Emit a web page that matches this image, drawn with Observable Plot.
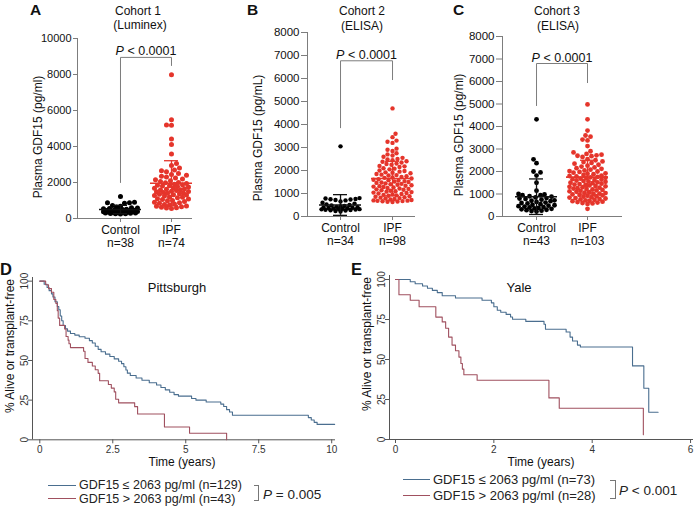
<!DOCTYPE html>
<html><head><meta charset="utf-8">
<script src="https://cdn.jsdelivr.net/npm/d3@7"></script>
<script src="https://cdn.jsdelivr.net/npm/@observablehq/plot@0.6"></script>
<style>
body{margin:0;background:#fff;}
#fig{position:relative;width:695px;height:510px;overflow:hidden;background:#fff;font-family:"Liberation Sans",Arial,Helvetica,sans-serif;color:#111;}
.t{position:absolute;white-space:nowrap;line-height:1;}
.sw{position:absolute;height:0;}
.br{position:absolute;border:1px solid #777;border-left:none;}
</style></head><body><div id="fig"></div>
<script>
// ---------- Data: panels A–C, plasma GDF15 per subject ----------
const groups = ["Control", "IPF"];
const cohort1Control = [1220, 900, 880, 870, 850, 720, 680, 640, 600, 580, 560, 540, 520, 500, 480, 470, 460, 450, 440, 430, 420, 410, 400, 390, 380, 370, 360, 350, 340, 330, 320, 310, 300, 290, 280, 270, 260, 250];
const cohort1IPF = [7980, 5480, 5200, 5180, 4410, 4110, 3590,
  3050, 2950, 2800, 2700, 2650, 2600, 2500, 2450, 2400, 2350, 2300, 2250, 2200, 2150, 2100, 2050, 2000, 1980, 1950, 1900,
  1880, 1850, 1820, 1800, 1780, 1750, 1700, 1680, 1650, 1620, 1600, 1580, 1550, 1520, 1500, 1480, 1450, 1420, 1400, 1380,
  1350, 1320, 1300, 1280, 1250, 1200, 1180, 1150, 1100, 1080, 1050, 1000, 980, 950, 900, 880, 850, 800, 780, 750,
  700, 680, 650, 620, 600, 580, 550];
const cohort2Control = [3050, 800, 780, 760, 750, 740, 720, 700, 650, 600, 560, 520, 500, 480, 460, 440, 420, 400, 390, 380, 370, 360, 350, 340, 330, 320, 310, 300, 290, 280, 270, 260, 240, 220];
const cohort2IPF = [4700, 3600, 3450, 3300, 3250, 3200, 2950, 2900, 2850,
  2750, 2700, 2650, 2600, 2550, 2500, 2480, 2450, 2400, 2380, 2350, 2300, 2280, 2250, 2200, 2180, 2150, 2100, 2080, 2050,
  2000, 1980, 1950, 1920, 1900, 1880, 1850, 1820, 1800, 1780, 1750, 1720, 1700, 1680, 1650, 1620, 1600, 1580, 1560, 1540,
  1520, 1500, 1480, 1460, 1440, 1420, 1400, 1380, 1360, 1340, 1320, 1300, 1280, 1260, 1240, 1220, 1200, 1180, 1160, 1140,
  1120, 1100, 1080, 1060, 1040, 1020, 1000, 980, 960, 940, 920, 900, 880, 860, 840, 820, 800, 780, 760, 740,
  720, 700, 690, 680, 670, 660, 650, 640, 630];
const cohort3Control = [4320, 2540, 2370, 2000, 1960, 1820, 1500, 1150, 950,
  1000, 980, 950, 900, 880, 850, 820, 800, 780, 750, 720, 700, 680, 650, 620, 600, 580, 550, 520, 500,
  480, 460, 440, 420, 400, 380, 360, 340, 320, 300, 280, 260, 240, 220];
const cohort3IPF = [4980, 4320, 3820, 3600, 3550, 3420, 3380, 3130, 2900, 2850, 2780, 2750, 2720, 2700, 2680, 2650, 340,
  2550, 2500, 2450, 2420, 2380, 2350, 2300, 2260, 2220, 2180, 2150, 2120, 2080, 2050, 2020, 2000, 1980, 1950, 1920, 1900,
  1880, 1850, 1820, 1800, 1780, 1760, 1740, 1720, 1700, 1680, 1660, 1640, 1620, 1600, 1580, 1560, 1540, 1520, 1500, 1480,
  1460, 1440, 1420, 1400, 1380, 1360, 1340, 1320, 1300, 1280, 1260, 1240, 1220, 1200, 1180, 1160, 1140, 1120, 1100, 1080,
  1060, 1040, 1020, 1000, 980, 960, 940, 920, 900, 880, 860, 840, 820, 800, 780, 760, 740, 720, 700, 680,
  660, 640, 620, 600, 580, 560];
// mean and SD bars as drawn
const cohort1Mean = [500, 1960], cohort1SD = [230, 1250];
const cohort2Mean = [500, 1650], cohort2SD = [450, 750];
const cohort3Mean = [880, 1750], cohort3SD = [790, 750];
// group sizes
const cohort1N = ["n=38", "n=74"], cohort2N = ["n=34", "n=98"], cohort3N = ["n=43", "n=103"];
// significance brackets: [left leg end, bracket top, right leg end]
const cohort1Bracket = [2000, 8950, 8500];
const cohort2Bracket = [3860, 6770, 5950];
const cohort3Bracket = [4930, 6800, 5950];
const pTop = "P < 0.0001";
const ticks10000 = [0, 2000, 4000, 6000, 8000, 10000];
const ticks8000 = [0, 1000, 2000, 3000, 4000, 5000, 6000, 7000, 8000];

// ---------- Data: panels D–E, Kaplan–Meier (time in years, % alive or transplant-free) ----------
const pittLowTime = [0, 0.15, 0.25, 0.32, 0.4, 0.45, 0.52, 0.6, 0.65, 0.7, 0.75, 0.8, 0.88, 0.95, 1.05, 1.2, 1.35, 1.55, 1.7, 1.8, 1.9, 2.0, 2.1, 2.25, 2.4, 2.55, 2.7, 2.8, 2.88, 2.95, 3.0, 3.1, 3.3, 3.5, 3.75, 4.0, 4.15, 4.3, 4.45, 4.6, 4.75, 5.2, 5.35, 5.7, 6.2, 6.3, 6.4, 6.5, 6.6, 9.2, 9.3, 9.4, 9.5, 10.1];
const pittLowSurv = [100, 98, 96, 94, 92, 90, 87, 84, 82, 78, 75, 72, 70, 68.5, 67, 66, 65, 64, 62.5, 61, 59, 57, 55.5, 54, 52.5, 51, 49.5, 48, 46, 44, 42, 40.5, 39, 37.5, 36, 34.5, 33, 31.5, 30, 28.5, 27.5, 26, 25, 23.8, 22.5, 21, 19, 17.5, 15.5, 14, 12.5, 11, 9.7, 9.7];
const pittHighTime = [0, 0.2, 0.3, 0.4, 0.48, 0.55, 0.6, 0.63, 0.68, 0.85, 0.9, 0.97, 1.0, 1.05, 1.5, 1.55, 1.65, 1.8, 1.9, 2.0, 2.05, 2.35, 2.45, 2.55, 2.6, 2.7, 3.25, 3.35, 4.27, 5.13, 6.4];
const pittHighSurv = [100, 97.7, 95.3, 93, 88.4, 86, 81.4, 76.7, 72.1, 69.8, 65.1, 62.8, 60.5, 58.1, 55.8, 51.2, 48.8, 46.5, 44.2, 41.9, 37.2, 34.9, 32.6, 30.2, 25.6, 23.3, 20.9, 16.3, 8.1, 4.1, 0];
const yaleLowTime = [0, 0.3, 0.4, 0.55, 0.65, 0.75, 0.85, 0.95, 1.22, 1.76, 1.95, 2.0, 2.07, 2.14, 2.25, 2.34, 2.38, 2.65, 3.02, 3.05, 3.47, 3.55, 3.6, 3.7, 3.76, 4.82, 5.05, 5.15, 5.34];
const yaleLowSurv = [100, 98.6, 97.3, 95.9, 94.5, 93.2, 91.8, 89.8, 88.4, 87, 85.4, 83, 80.8, 79.5, 78.2, 76.6, 75.2, 73.8, 72, 68.9, 67.2, 64, 61.6, 59, 57.8, 46, 32, 17, 17];
const yaleHighTime = [0, 0.07, 0.3, 0.48, 0.82, 0.95, 1.02, 1.08, 1.15, 1.22, 1.29, 1.33, 1.36, 1.39, 1.66, 3.12, 3.33, 5.04];
const yaleHighSurv = [100, 90.5, 87, 83, 76.5, 73.5, 69.5, 64, 59, 55.5, 51.5, 47.5, 44, 40.5, 37, 26, 19.5, 3];
const pittTicks = [0, 2.5, 5, 7.5, 10];
const yaleTicks = [0, 2, 4, 6];
const survTicks = [0, 25, 50, 75, 100];
const legendLow = "GDF15 ≤ 2063 pg/ml", legendHigh = "GDF15 > 2063 pg/ml";

// ---------- Styling ----------
const FONT = '"Liberation Sans", Arial, Helvetica, sans-serif';
const AX = "#7d7d7d";
const DOT = ["#000000", "#e5352b"];
const BAR = ["#111111", "#e5352b"];
const AX2 = "#555555";
const BLUE = "#4a6e8f", RED = "#a0505f";

const fig = document.getElementById("fig");
function place(svg, left, top) {
  svg.style.position = "absolute";
  svg.style.left = left + "px";
  svg.style.top = top + "px";
  svg.style.overflow = "visible";
  svg.style.background = "transparent";
  svg.style.maxWidth = "none";
  fig.appendChild(svg);
}
function label(html, x, base, size, opt = {}) {
  const d = document.createElement("div");
  d.className = "t";
  d.innerHTML = html;
  d.style.fontSize = size + "px";
  d.style.left = x + "px";
  d.style.top = (base - 0.8465 * size) + "px";
  if (opt.center) d.style.transform = "translateX(-50%)";
  if (opt.bold) d.style.fontWeight = "bold";
  if (opt.color) d.style.color = opt.color;
  fig.appendChild(d);
}
function vlabel(txt, cx, cy, size) {
  const d = document.createElement("div");
  d.className = "t";
  d.textContent = txt;
  d.style.fontSize = size + "px";
  d.style.left = cx + "px";
  d.style.top = cy + "px";
  d.style.transform = "translate(-50%,-50%) rotate(-90deg)";
  fig.appendChild(d);
}
function italicP(svg) {
  svg.querySelectorAll("text").forEach(t => {
    if (t.children.length === 0 && /^P [<=]/.test(t.textContent)) {
      const rest = t.textContent.slice(1);
      t.textContent = "";
      const ts = document.createElementNS("http://www.w3.org/2000/svg", "tspan");
      ts.setAttribute("font-style", "italic");
      ts.textContent = "P";
      t.appendChild(ts);
      t.appendChild(document.createTextNode(rest));
    }
  });
}

// scatter-dot layout (offsets in pixels), points overlap once the row is full
function swarm(values, pxPerY, r, maxW) {
  const order = d3.range(values.length).sort((a, b) => values[a] - values[b]);
  const placed = [], off = new Array(values.length);
  const need = 2 * r;
  order.forEach((i, n) => {
    const y = values[i] * pxPerY;
    const sgn = n % 2 ? -1 : 1;
    let best = 0, bestScore = -Infinity;
    for (let k = 0; k <= 2 * maxW; k++) {
      const m = Math.ceil(k / 2);
      const o = (k % 2 ? m : -m) * sgn;
      let minD = Infinity;
      for (const p of placed) {
        const dd = Math.hypot(p[0] - o, p[1] - y);
        if (dd < minD) minD = dd;
      }
      if (minD >= need) { best = o; bestScore = Infinity; break; }
      if (minD > bestScore + 0.01) { bestScore = minD; best = o; }
    }
    placed.push([best, y]);
    off[i] = best;
  });
  return off;
}

function scatterPanel(c) {
  const pxPerY = (c.height - c.mt - c.mb) / c.yMax;
  const spacing = (c.width - c.ml - c.mr) / (c.xDomain[1] - c.xDomain[0]);
  const rows = [];
  c.values.forEach((vals, g) => {
    const off = swarm(vals, pxPerY, c.r, c.maxW);
    vals.forEach((v, i) => rows.push({g, v, x: g + off[i] / spacing}));
  });
  const stats = c.means.map((m, g) => ({g, m, lo: m - c.sds[g], hi: m + c.sds[g]}));
  const capW = 7 / spacing, meanW = 21 / spacing;
  const br = [{x: 0, y: c.bracket[0]}, {x: 0, y: c.bracket[1]}, {x: 1, y: c.bracket[1]}, {x: 1, y: c.bracket[2]}];
  const marks = [
    Plot.ruleX([c.xDomain[0]], {stroke: AX}),
    Plot.ruleY([0], {stroke: AX}),
    Plot.axisY({ticks: c.yTicks, tickFormat: d => String(d), tickSize: c.tickSize, tickPadding: 2, stroke: AX, fill: "#111", fontSize: c.fontSize, label: null}),
    Plot.axisX({ticks: [0, 1], tickFormat: i => groups[i] + "\n" + c.nLabels[i], tickSize: 4, tickPadding: 2, stroke: AX, fill: "#111", fontSize: 12, lineHeight: 1.1, label: null}),
    Plot.line(br, {x: "x", y: "y", stroke: AX, strokeWidth: 1}),
    Plot.text([{x: 0.5, y: c.bracket[1], t: pTop}], {x: "x", y: "y", text: "t", lineAnchor: "bottom", dy: -2, fontSize: 12.5, fill: "#111"})
  ];
  [0, 1].forEach(g => {
    marks.push(Plot.dot(rows, {filter: d => d.g === g, x: "x", y: "v", r: c.r, fill: DOT[g], stroke: "none"}));
  });
  [0, 1].forEach(g => {
    const s = stats.filter(d => d.g === g);
    marks.push(
      Plot.ruleX(s, {x: "g", y1: "lo", y2: "hi", stroke: BAR[g], strokeWidth: 1.3}),
      Plot.ruleY(s, {y: "hi", x1: d => d.g - capW, x2: d => d.g + capW, stroke: BAR[g], strokeWidth: 1.3}),
      Plot.ruleY(s, {y: "lo", x1: d => d.g - capW, x2: d => d.g + capW, stroke: BAR[g], strokeWidth: 1.3}),
      Plot.ruleY(s, {y: "m", x1: d => d.g - meanW, x2: d => d.g + meanW, stroke: BAR[g], strokeWidth: 1.6})
    );
  });
  const svg = Plot.plot({
    width: c.width, height: c.height,
    marginTop: c.mt, marginBottom: c.mb, marginLeft: c.ml, marginRight: c.mr,
    x: {domain: c.xDomain},
    y: {domain: [0, c.yMax]},
    style: {fontFamily: FONT, fontSize: "11px", color: "#111", background: "transparent"},
    marks
  });
  italicP(svg);
  place(svg, c.left, 0);
}

scatterPanel({left: 0, width: 232, height: 255, mt: 38, mb: 37, ml: 77, mr: 40, yMax: 10000, yTicks: ticks10000,
  xDomain: [-0.843, 1.412], values: [cohort1Control, cohort1IPF], means: cohort1Mean, sds: cohort1SD,
  r: 2.5, maxW: 17, bracket: cohort1Bracket, nLabels: cohort1N, tickSize: 4, fontSize: 11});
scatterPanel({left: 232, width: 230, height: 255, mt: 32, mb: 39, ml: 75, mr: 47, yMax: 8000, yTicks: ticks8000,
  xDomain: [-0.635, 1.442], values: [cohort2Control, cohort2IPF], means: cohort2Mean, sds: cohort2SD,
  r: 2.2, maxW: 19, bracket: cohort2Bracket, nLabels: cohort2N, tickSize: 6, fontSize: 11.5});
scatterPanel({left: 455, width: 240, height: 255, mt: 36, mb: 39, ml: 47, mr: 73, yMax: 8000, yTicks: ticks8000,
  xDomain: [-0.667, 1.686], values: [cohort3Control, cohort3IPF], means: cohort3Mean, sds: cohort3SD,
  r: 2.4, maxW: 18, bracket: cohort3Bracket, nLabels: cohort3N, tickSize: 6, fontSize: 11.5});

function toRows(t, s) { return t.map((d, i) => ({t: d, s: s[i]})); }
function kmPanel(c) {
  const svg = Plot.plot({
    width: c.width, height: c.height,
    marginTop: c.mt, marginBottom: c.mb, marginLeft: c.ml, marginRight: c.mr,
    x: {domain: c.xDomain},
    y: {domain: [0, c.yMax]},
    style: {fontFamily: FONT, fontSize: "10px", color: "#333", background: "transparent"},
    marks: [
      Plot.ruleX([c.xDomain[0]], {stroke: AX2}),
      Plot.ruleY([0], {stroke: AX2}),
      Plot.axisX({ticks: c.xTicks, tickFormat: d => String(d), tickSize: 4, tickPadding: 2, stroke: AX2, fill: "#333", fontSize: 10, label: null}),
      Plot.axisY({ticks: survTicks, tickFormat: d => String(d), tickRotate: -90, tickSize: 4, tickPadding: 1, stroke: AX2, fill: "#333", fontSize: 10, label: null}),
      Plot.line(toRows(c.lowT, c.lowS), {x: "t", y: "s", curve: "step-after", stroke: BLUE, strokeWidth: 1.1}),
      Plot.line(toRows(c.highT, c.highS), {x: "t", y: "s", curve: "step-after", stroke: RED, strokeWidth: 1.1})
    ]
  });
  place(svg, c.left, c.top);
}
kmPanel({left: 0, top: 250, width: 345, height: 260, mt: 27, mb: 70.7, ml: 32, mr: 10, xDomain: [-0.25, 10.13], yMax: 102.3,
  xTicks: pittTicks, lowT: pittLowTime, lowS: pittLowSurv, highT: pittHighTime, highS: pittHighSurv});
kmPanel({left: 345, top: 250, width: 350, height: 260, mt: 25, mb: 71, ml: 44, mr: 2, xDomain: [-0.122, 6.06], yMax: 102.5,
  xTicks: yaleTicks, lowT: yaleLowTime, lowS: yaleLowSurv, highT: yaleHighTime, highS: yaleHighSurv});

// ---------- Text ----------
label("A", 30, 15.5, 15.5, {bold: true});
label("B", 247, 15.5, 15.5, {bold: true});
label("C", 453, 15.5, 15.5, {bold: true});
label("Cohort 1", 138, 15, 12, {center: true});
label("(Luminex)", 140, 29.5, 12, {center: true});
label("Cohort 2", 362, 15, 12, {center: true});
label("(ELISA)", 362, 30, 12, {center: true});
label("Cohort 3", 557, 15, 12, {center: true});
label("(ELISA)", 558, 30, 12, {center: true});
vlabel("Plasma GDF15 (pg/ml)", 37.5, 137, 12);
vlabel("Plasma GDF15 (pg/mL)", 257.5, 138, 12);
vlabel("Plasma GDF15 (pg/ml)", 459, 135, 12);

label("D", 0, 275, 16.5, {bold: true});
label("E", 351, 275, 16.5, {bold: true});
label("Pittsburgh", 177, 292, 13, {center: true});
label("Yale", 519, 292, 13, {center: true});
vlabel("% Alive or transplant-free", 10, 346, 12);
vlabel("% Alive or transplant-free", 367, 344, 12);
label("Time (years)", 182, 466, 12, {center: true});
label("Time (years)", 541, 466, 12, {center: true});

function swatch(x, y, w, color) {
  const d = document.createElement("div");
  d.className = "sw";
  d.style.left = x + "px"; d.style.top = (y - 0.6) + "px"; d.style.width = w + "px";
  d.style.borderTop = "1.2px solid " + color;
  fig.appendChild(d);
}
function bracketBox(x, y, w, h) {
  const d = document.createElement("div");
  d.className = "br";
  d.style.left = x + "px"; d.style.top = y + "px"; d.style.width = w + "px"; d.style.height = h + "px";
  fig.appendChild(d);
}
swatch(48, 485.5, 28, BLUE);
swatch(48, 499, 28, RED);
label(legendLow + " (n=129)", 79, 489.8, 12.5, {color: "#222"});
label(legendHigh + " (n=43)", 79, 503.3, 12.5, {color: "#222"});
bracketBox(254, 485, 4, 14);
label("<i>P</i> = 0.005", 263, 499.5, 13.5, {color: "#222"});

swatch(403, 479.5, 27, BLUE);
swatch(403, 495.5, 27, RED);
label(legendLow + " (n=73)", 433, 484, 13, {color: "#222"});
label(legendHigh + " (n=28)", 433, 500, 13, {color: "#222"});
bracketBox(610, 480, 5, 17);
label("<i>P</i> &lt; 0.001", 619, 495, 13.5, {color: "#222"});
</script></body></html>
